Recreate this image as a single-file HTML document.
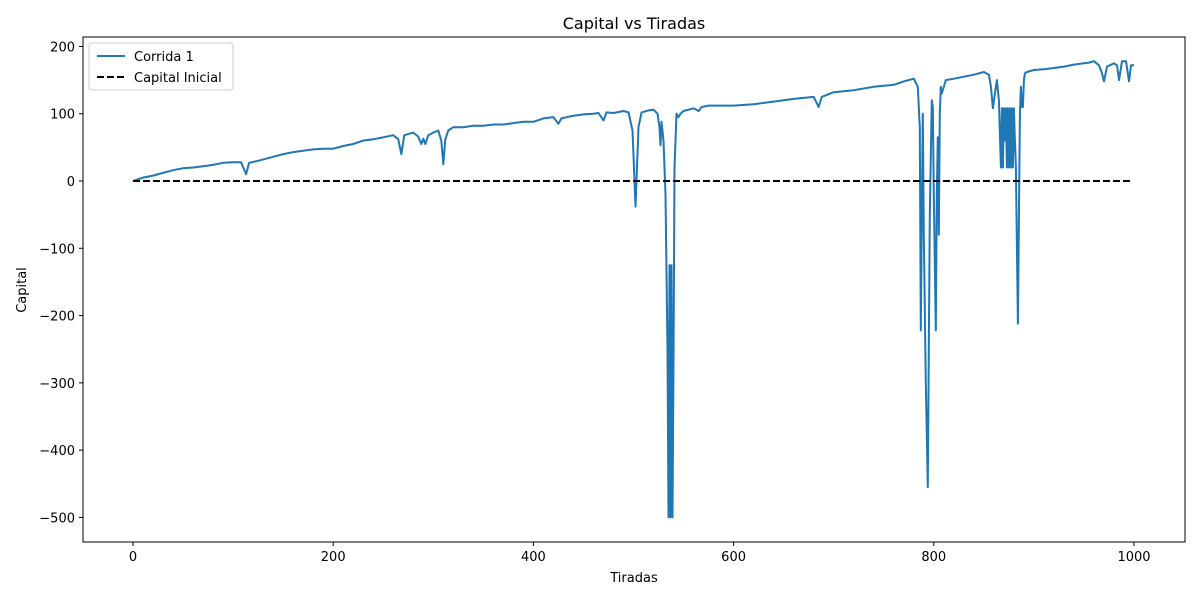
<!DOCTYPE html>
<html><head><meta charset="utf-8"><style>
body{margin:0;background:#fff;font-family:"Liberation Sans","DejaVu Sans",sans-serif}
svg text{font-family:"DejaVu Sans","Liberation Sans",sans-serif;font-size:13px;fill:#000}
</style></head><body>
<svg id="chart" width="1200" height="600" xmlns="http://www.w3.org/2000/svg">
<rect width="1200" height="600" fill="#fff"/>
<text x="634" y="29" text-anchor="middle" style="font-size:16px">Capital vs Tiradas</text>
<g id="plot"></g>
<rect x="83" y="37" width="1102" height="505" fill="none" stroke="#000" stroke-width="1"/>
<text x="634" y="582" text-anchor="middle">Tiradas</text>
<text transform="translate(26,290) rotate(-90)" text-anchor="middle">Capital</text>
<g>
<rect x="89" y="43" width="144" height="47" rx="3" fill="#fff" fill-opacity="0.8" stroke="#ccc"/>
<line x1="97" y1="56" x2="125" y2="56" stroke="#1f77b4" stroke-width="2"/>
<text x="134" y="61">Corrida 1</text>
<line x1="97" y1="77" x2="125" y2="77" stroke="#000" stroke-width="2" stroke-dasharray="7,3"/>
<text x="134" y="82">Capital Inicial</text>
</g>
</svg>
<script>
const xTicks=[0,200,400,600,800,1000];
const yTicks=[200,100,0,-100,-200,-300,-400,-500];
const capitalInicial=0;
const tiradas=[0,10,20,30,40,50,60,70,80,90,100,108,113,116,125,140,150,160,170,180,190,200,205,210,220,230,240,250,260,265,268,271,280,285,288,290,292,295,300,305,308,310,312,315,320,330,340,350,360,370,380,390,400,410,420,425,428,440,450,460,465,470,473,480,490,495,499,502,505,508,515,520,524,526,527,528,530,532,534,535,536,537,538,539,540,541,542,543,545,547,550,560,565,568,575,590,600,620,640,660,680,685,688,700,720,740,760,770,780,784,786,787,788,789,790,792,794,796,798,799,800,802,803,804,805,806,807,808,810,812,820,830,840,850,855,857,859,861,863,865,867,868,869,870,871,872,873,874,875,876,877,878,879,880,881,882,884,886,887,888,889,890,891,893,900,910,920,930,940,950,955,960,965,968,970,973,980,983,985,988,992,995,997,1000];
const capital=[0,5,8,12,16,19,20,22,24,27,28,28,10,27,30,36,40,43,45,47,48,48,50,52,55,60,62,65,68,62,40,68,72,66,55,63,55,68,72,75,60,25,62,75,80,80,82,82,84,84,86,88,88,93,95,85,93,97,99,100,101,90,102,101,104,102,75,-38,80,102,105,106,100,80,53,88,60,-20,-250,-500,-125,-500,-125,-500,-270,20,60,100,95,100,104,108,104,110,112,112,112,114,118,122,125,110,125,132,135,140,143,148,152,140,80,-222,-50,100,-80,-300,-455,-50,120,110,-20,-222,-20,65,-80,100,140,130,140,150,152,155,158,162,158,140,108,130,150,120,20,108,20,108,60,108,20,108,20,108,20,108,20,108,60,20,-212,100,140,110,110,150,160,162,165,166,168,170,173,175,176,178,172,160,148,170,175,172,150,178,178,148,172,172];
const X0=133,X1=1134,Y0=181,YS=(518-47)/700;
const sx=v=>X0+(X1-X0)*v/1000;
const sy=v=>Y0-v*YS;
const NS="http://www.w3.org/2000/svg";
const g=document.getElementById('plot');
function mk(t,a){const e=document.createElementNS(NS,t);for(const k in a)e.setAttribute(k,a[k]);g.appendChild(e);return e;}
xTicks.forEach(v=>{
 const l=mk('line',{x1:sx(v),x2:sx(v),y1:542,y2:546,stroke:'#000'});
 
 
 const t=mk('text',{x:sx(v),y:561,'text-anchor':'middle'});t.textContent=v;
 
 
});
yTicks.forEach(v=>{
 const l=mk('line',{x1:79,x2:83,y1:sy(v),y2:sy(v),stroke:'#000'});
 
 
 const t=mk('text',{x:75,y:sy(v)+5,'text-anchor':'end'});t.textContent=v<0?'\u2212'+Math.abs(v):v;
 
 
});
const pts=tiradas.map((x,i)=>sx(x).toFixed(1)+','+sy(capital[i]).toFixed(1)).join(' ');
const line=mk('polyline',{points:pts,fill:'none',stroke:'#1f77b4','stroke-width':2,'stroke-linejoin':'round'});


const base=mk('line',{x1:sx(0),x2:sx(999),y1:sy(capitalInicial),y2:sy(capitalInicial),stroke:'#000','stroke-width':2,'stroke-dasharray':'7,3'});


</script>
</body></html>
